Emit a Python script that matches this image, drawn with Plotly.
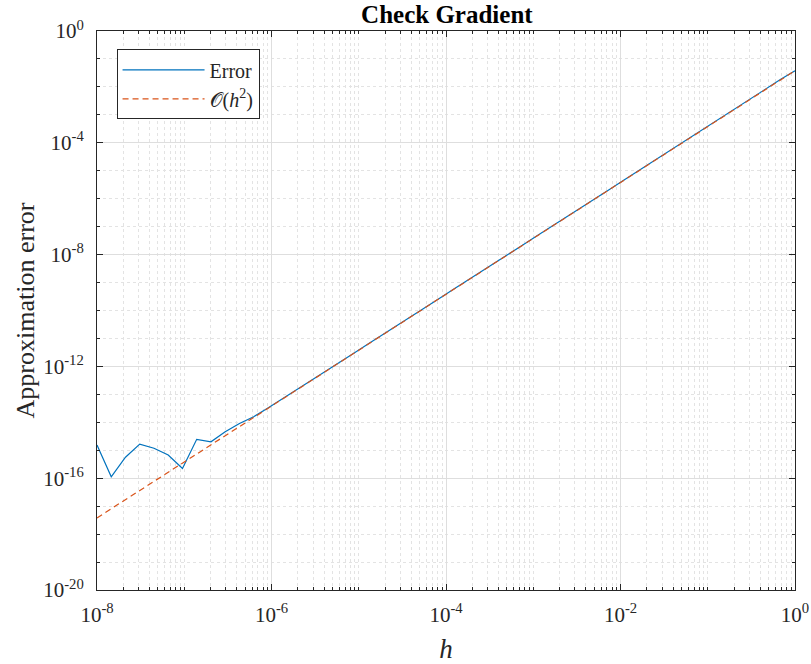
import numpy as np
import plotly.graph_objects as go

# Step sizes used in the gradient check (50 log-spaced values from 1e-8 to 1)
h = np.logspace(-8, 0, 50)

# log10 of the measured finite-difference error at each step size
log_err = [
    -14.81, -15.95, -15.25, -14.78, -14.93, -15.17, -15.65, -14.61, -14.70, -14.34,
    -14.04, -13.80, -13.49, -13.17, -12.85, -12.52, -12.19, -11.87, -11.54, -11.21,
    -10.89, -10.56, -10.23, -9.91, -9.58, -9.25, -8.93, -8.60, -8.27, -7.95,
    -7.62, -7.29, -6.97, -6.64, -6.31, -5.98, -5.66, -5.33, -5.00, -4.67,
    -4.34, -4.01, -3.68, -3.35, -3.02, -2.70, -2.37, -2.05, -1.73, -1.42,
]
err = [10.0 ** v for v in log_err]

# Reference second-order line, end points
ref_h = [1e-8, 1.0]
ref_err = [10.0 ** -17.42, 10.0 ** -1.42]

x_ticks = [1e-8, 1e-6, 1e-4, 1e-2, 1e0]
x_ticktext = ["10<sup>-8</sup>", "10<sup>-6</sup>", "10<sup>-4</sup>", "10<sup>-2</sup>", "10<sup>0</sup>"]
y_ticks = [1e-20, 1e-16, 1e-12, 1e-8, 1e-4, 1e0]
y_ticktext = ["10<sup>-20</sup>", "10<sup>-16</sup>", "10<sup>-12</sup>",
              "10<sup>-8</sup>", "10<sup>-4</sup>", "10<sup>0</sup>"]

x_minor = [m * 10.0 ** e for e in range(-8, 0) for m in range(1, 10)
           if not (m == 1 and e % 2 == 0)]
y_minor = [10.0 ** e for e in range(-20, 1) if e % 4 != 0]

FONT = "Liberation Serif"
AX = "#262626"

fig = go.Figure()
fig.add_trace(go.Scatter(
    x=h, y=err, mode="lines", name="Error",
    line=dict(color="#0072BD", width=1.2),
))
fig.add_trace(go.Scatter(
    x=ref_h, y=ref_err, mode="lines",
    name="𝒪(<i>h</i><sup>2</sup>)",
    line=dict(color="#D95319", width=1.2, dash="6px,4px"),
))

axis_common = dict(
    type="log", automargin=False,
    showline=True, linecolor=AX, linewidth=1, mirror="allticks",
    ticks="inside", ticklen=6, tickcolor=AX,
    showgrid=True, gridcolor="#dedede", gridwidth=1,
    zeroline=False,
    tickfont=dict(family=FONT, size=21, color=AX),
)
minor_common = dict(tickmode="array", ticks="inside", ticklen=3, tickcolor=AX,
                    showgrid=True, gridcolor="#e3e3e3", griddash="dot", gridwidth=1)

fig.update_xaxes(
    **axis_common,
    range=[-8, 0],
    tickmode="array", tickvals=x_ticks, ticktext=x_ticktext,
    ticklabelstandoff=6,
    minor=dict(tickvals=x_minor, **minor_common),
    title=dict(text="<i>h</i>", font=dict(family=FONT, size=27, color=AX), standoff=14),
)
fig.update_yaxes(
    **axis_common,
    range=[-20, 0],
    tickmode="array", tickvals=y_ticks, ticktext=y_ticktext,
    ticklabelstandoff=8,
    minor=dict(tickvals=y_minor, **minor_common),
    title=dict(text="Approximation error", font=dict(family=FONT, size=26, color=AX),
               standoff=1),
)

fig.update_layout(
    width=811, height=664,
    margin=dict(l=97, r=16, t=31, b=74),
    paper_bgcolor="white", plot_bgcolor="white",
    title=dict(text="<b>Check Gradient</b>", x=0.551, xanchor="center",
               y=0.978, yanchor="middle",
               font=dict(family=FONT, size=25, color="black")),
    legend=dict(x=0.028, y=0.967, xanchor="left", yanchor="top",
                bgcolor="white", bordercolor=AX, borderwidth=1,
                font=dict(family=FONT, size=20, color=AX),
                itemwidth=82, tracegroupgap=0),
    showlegend=True,
)

fig.write_html("out.html")
